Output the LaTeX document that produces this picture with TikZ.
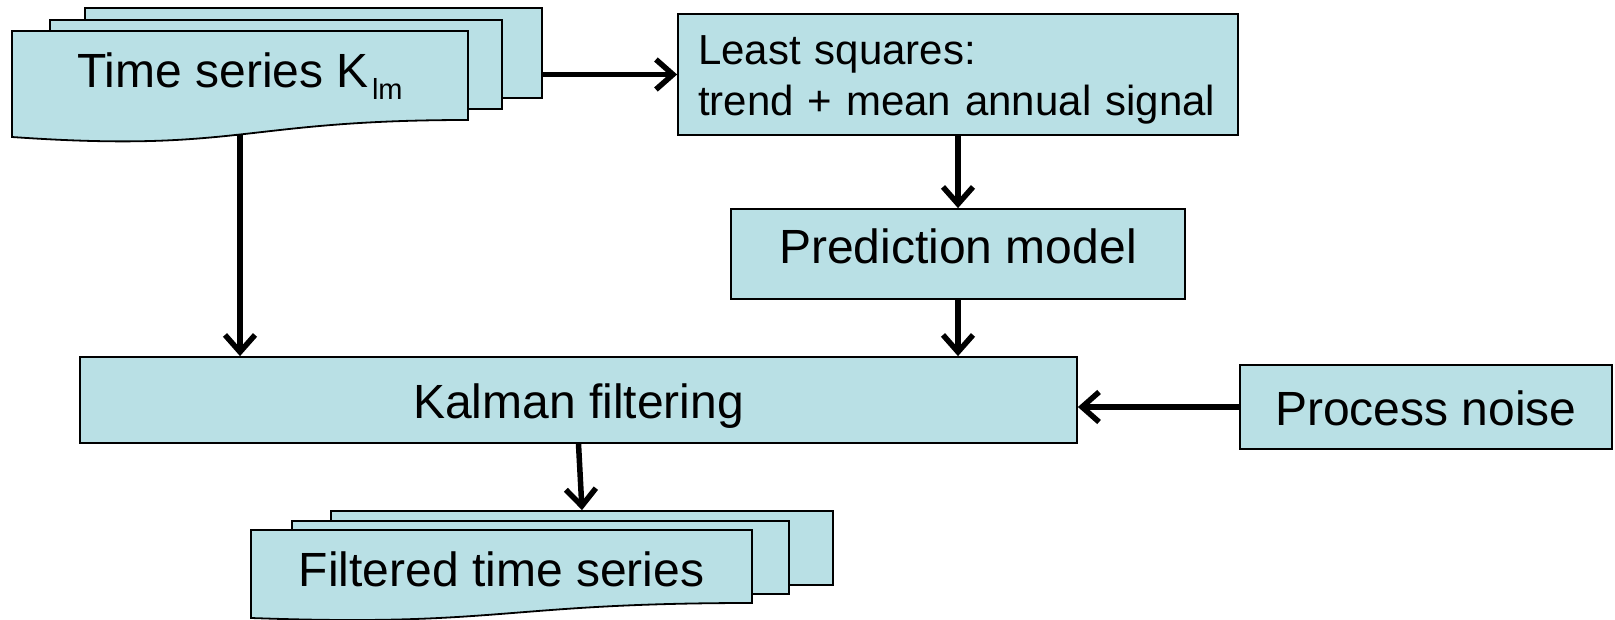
\documentclass[tikz,border=0pt]{standalone}
\usepackage{fontspec}
\setmainfont{Liberation Sans}
\usetikzlibrary{arrows.meta}
\definecolor{boxfill}{RGB}{185,224,229}
\begin{document}
\begin{tikzpicture}[x=1pt,y=-1pt,
  box/.style={draw=black, line width=1.8pt, fill=boxfill, inner sep=0pt, font=\fontsize{48}{52}\selectfont},
  docshape/.style={draw=black, line width=1.8pt, fill=boxfill},
  txt/.style={inner sep=0pt, anchor=base, font=\fontsize{48}{52}\selectfont},
  arr/.style={line width=5.5pt, -{Straight Barb[length=17pt,width=30pt]}}]
\useasboundingbox (0,0) rectangle (1615,620);

% time series stack
\node[box, minimum width=457pt, minimum height=90pt] (tsback) at (313.5,53) {};
\node[box, minimum width=452pt, minimum height=89pt] (tsmid) at (276,64.5) {};
\draw[docshape] (12,31) -- (468,31) -- (468,120) .. controls (240,120) and (240,153) .. (12,137) -- cycle;
\node[txt] (tstext) at (240,88) {Time series K\kern3pt\raisebox{-12pt}{\fontsize{29}{30}\selectfont lm}};
\coordinate (tsout) at (240,134.5);

% filtered time series stack
\node[box, minimum width=502pt, minimum height=74pt] (ftsback) at (582,548) {};
\node[box, minimum width=497pt, minimum height=73pt] (ftsmid) at (540.5,557.5) {};
\draw[docshape] (251,530) -- (752,530) -- (752,603) .. controls (501.5,603) and (501.5,627) .. (251,618) -- cycle;
\node[txt] (ftstext) at (501.5,586) {Filtered time series};

% boxes
\node[box, minimum width=560pt, minimum height=121pt, align=left, text width=520pt,
      font=\fontsize{42}{51}\selectfont, text height=33pt, text depth=52pt] (ls) at (958,74.5)
      {Least squares:\\trend + mean annual signal};
\node[box, minimum width=454pt, minimum height=90pt, text height=30pt, text depth=10pt] (pm) at (958,254) {Prediction model};
\node[box, minimum width=997pt, minimum height=86pt, text height=38pt, text depth=2pt] (kf) at (578.5,400) {Kalman filtering};
\node[box, minimum width=372pt, minimum height=84pt, text height=38pt, text depth=2pt] (pn) at (1426,407) {Process noise};

% connectors
\draw[arr] (ls.west -| tsback.east) -- (ls.west);
\draw[arr] (ls.south) -- (pm.north);
\draw[arr] (pm.south) -- (pm.south |- kf.north);
\draw[arr] (tsout) -- (tsout |- kf.north);
\draw[arr] (pn.west) -- (pn.west -| kf.east);
\draw[arr] (kf.south) -- (ftsback.north);
\end{tikzpicture}
\end{document}
